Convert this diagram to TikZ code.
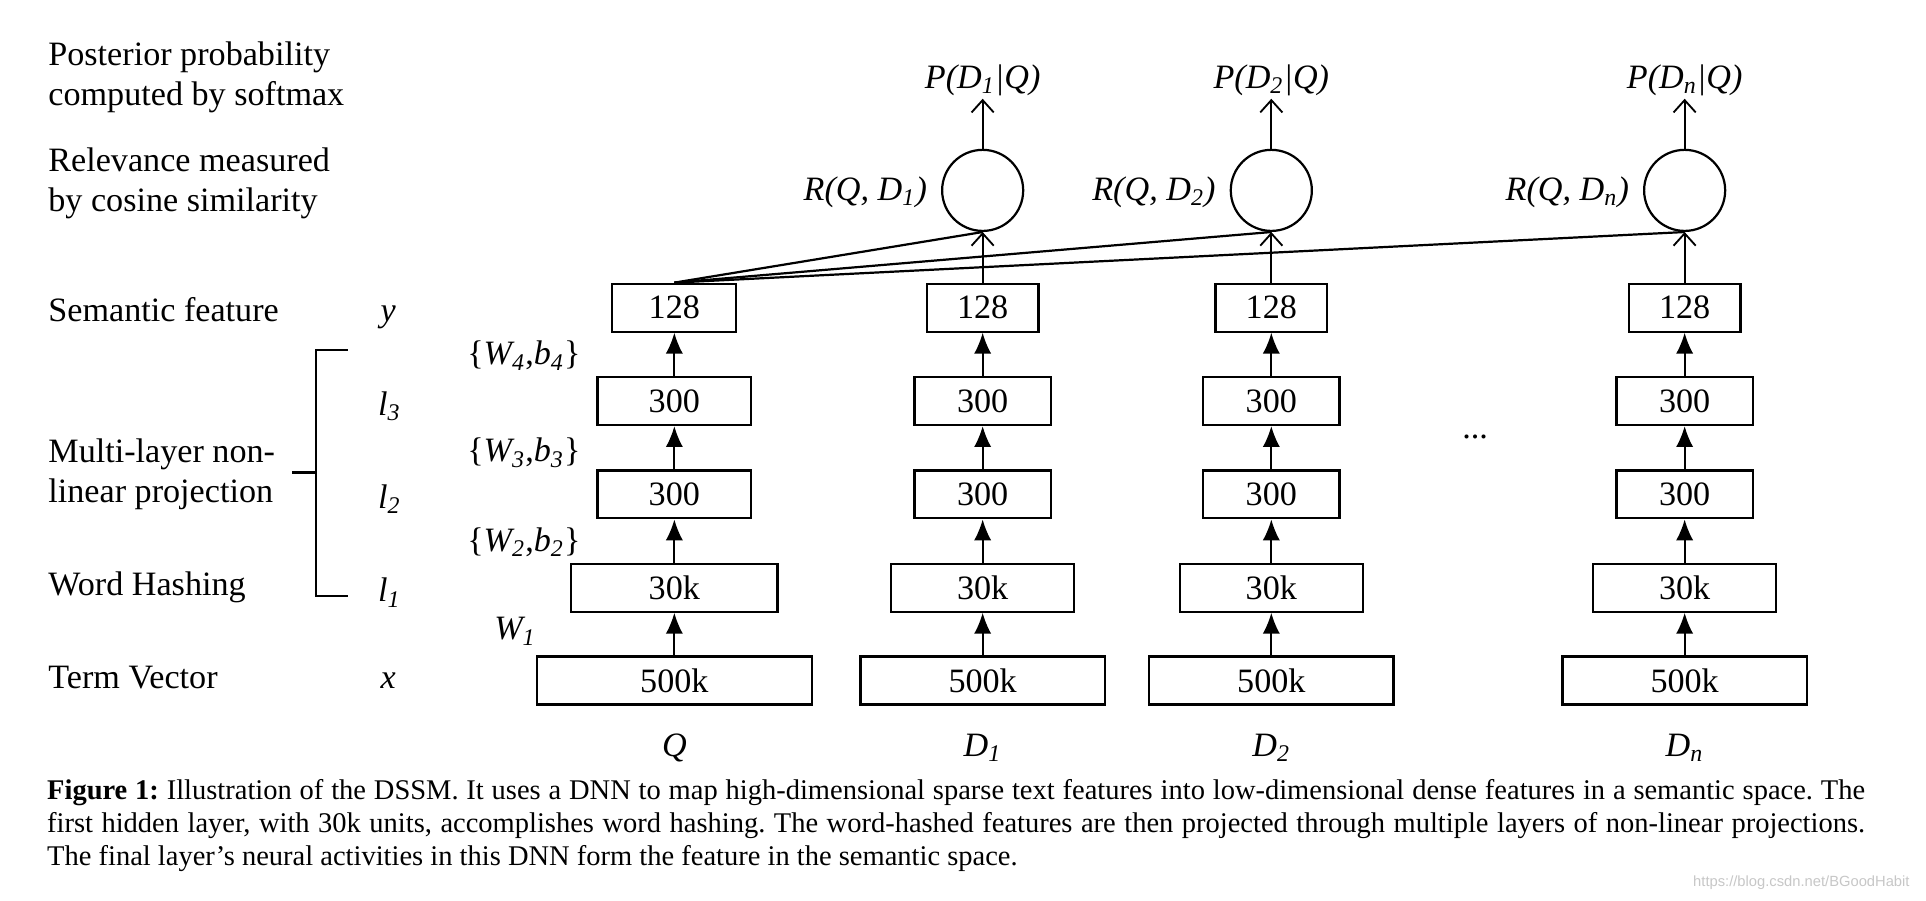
\documentclass[tikz,border=0pt]{standalone}
\usepackage{fontspec}
\setmainfont{Liberation Serif}
\newfontfamily\wmfont{Liberation Sans}
\usetikzlibrary{arrows.meta}
\begin{document}
\begin{tikzpicture}[x=0.5pt,y=-0.5pt,
  lbl/.style={inner sep=0pt, font=\fontsize{13.9}{16}\selectfont},
  layerbox/.style={draw, line width=0.9pt, minimum height=19.5pt, inner sep=0pt, font=\fontsize{13.9}{16}\selectfont},
  fwd/.style={-{Latex[length=8.5pt,width=7pt]}, line width=0.7pt},
  openarr/.style={-{Straight Barb[length=5pt,width=9pt]}, line width=0.75pt},
  cosnode/.style={draw, circle, line width=0.9pt, minimum size=33pt, inner sep=0pt},
  simline/.style={line width=0.9pt},
  captxt/.style={inner sep=0pt, anchor=base west, font=\fontsize{11.6}{13}\selectfont\frenchspacing}]
\fill[white] (0,0) rectangle (1568,733);
\useasboundingbox (0,0) rectangle (1568,733);

% left descriptions
\node[lbl, anchor=base west] (post1) at (39,53) {Posterior probability};
\node[lbl, anchor=base west] (post2) at (39,85.5) {computed by softmax};
\node[lbl, anchor=base west] (rel1) at (39,140) {Relevance measured};
\node[lbl, anchor=base west] (rel2) at (39,172.5) {by cosine similarity};
\node[lbl, anchor=base west] (sem) at (39,262) {Semantic feature};
\node[lbl, anchor=base west] (mlp1) at (39,376.5) {Multi-layer non-};
\node[lbl, anchor=base west] (mlp2) at (39,409) {linear projection};
\node[lbl, anchor=base west] (wh) at (39,484.5) {Word Hashing};
\node[lbl, anchor=base west] (tv) at (39,560.5) {Term Vector};

% layer variables
\node[lbl, anchor=base] (vy) at (316,262) {\textit{y}};
\node[lbl, anchor=base] (vl3) at (317,338) {\textit{l\textsubscript{3}}};
\node[lbl, anchor=base] (vl2) at (317,414) {\textit{l\textsubscript{2}}};
\node[lbl, anchor=base] (vl1) at (317,490) {\textit{l\textsubscript{1}}};
\node[lbl, anchor=base] (vx) at (316,560.5) {\textit{x}};

% bracket
\coordinate (bt) at (283,285);
\coordinate (bb) at (283,485);
\coordinate (bm) at (238,384.6);
\draw[line width=0.9pt] (bt) -- (257,285) -- (257,485) -- (bb);
\draw[line width=0.9pt] (bm) -- (257,384.6);

% weights
\node[lbl, anchor=base west] (w4) at (380,297) {\{\textit{W\textsubscript{4}},\textit{b\textsubscript{4}}\}};
\node[lbl, anchor=base west] (w3) at (380,376) {\{\textit{W\textsubscript{3}},\textit{b\textsubscript{3}}\}};
\node[lbl, anchor=base west] (w2) at (380,449) {\{\textit{W\textsubscript{2}},\textit{b\textsubscript{2}}\}};
\node[lbl, anchor=base west] (w1) at (402,521) {\textit{W\textsubscript{1}}};

% columns
\foreach \c/\x/\wwa/\wwb/\wwc/\wwd/\lab in {
  q/549/50.5/62.5/84/112/{\textit{Q}},
  a/800/45.5/55.5/74.5/99.5/{\textit{D\textsubscript{1}}},
  b/1035/45.5/55.5/74.5/99.5/{\textit{D\textsubscript{2}}},
  n/1371.5/45.5/55.5/74.5/99.5/{\textit{D\textsubscript{n}}}} {
  \node[layerbox, minimum width=\wwd pt] (\c5) at (\x,554) {500k};
  \node[layerbox, minimum width=\wwc pt] (\c4) at (\x,478.5) {30k};
  \node[layerbox, minimum width=\wwb pt] (\c3) at (\x,402.5) {300};
  \node[layerbox, minimum width=\wwb pt] (\c2) at (\x,326.5) {300};
  \node[layerbox, minimum width=\wwa pt] (\c1) at (\x,250.5) {128};
  \draw[fwd] (\c5.north) -- (\c4.south);
  \draw[fwd] (\c4.north) -- (\c3.south);
  \draw[fwd] (\c3.north) -- (\c2.south);
  \draw[fwd] (\c2.north) -- (\c1.south);
  \node[lbl, anchor=base] (\c lab) at (\x,616) {\lab};
}

% cosine similarity and posterior
\foreach \c/\x/\idx in {a/800/1, b/1035/2, n/1371.5/n} {
  \node[cosnode] (c\c) at (\x,155) {};
  \node[lbl, anchor=base east] (r\c) at (\x-45,163) {\textit{R(Q, D\textsubscript{\idx})}};
  \node[lbl, anchor=base] (p\c) at (\x,72) {\textit{P(D\textsubscript{\idx}|Q)}};
  \draw[openarr] (\c1.north) -- (c\c.south);
  \draw[openarr, shorten >=1pt] (c\c.north) -- (p\c.south);
  \draw[simline] (q1.north) -- (c\c.south);
}

\node[lbl, anchor=base] (dots) at (1201,357) {...};

% caption
\node[captxt] (cap1) at (38,651) {\hbox to 740pt{\textbf{Figure 1:} Illustration of the DSSM. It uses a DNN to map high-dimensional sparse text features into low-dimensional dense features in a semantic space. The}};
\node[captxt] (cap2) at (38,678) {\hbox to 740pt{first hidden layer, with 30k units, accomplishes word hashing. The word-hashed features are then projected through multiple layers of non-linear projections.}};
\node[captxt] (cap3) at (38,705) {The final layer’s neural activities in this DNN form the feature in the semantic space.};

\node[inner sep=0pt, anchor=base east, text=black!22, font=\wmfont\fontsize{6}{7}\selectfont] (wm) at (1555,722) {https://blog.csdn.net/BGoodHabit};
\end{tikzpicture}
\end{document}
